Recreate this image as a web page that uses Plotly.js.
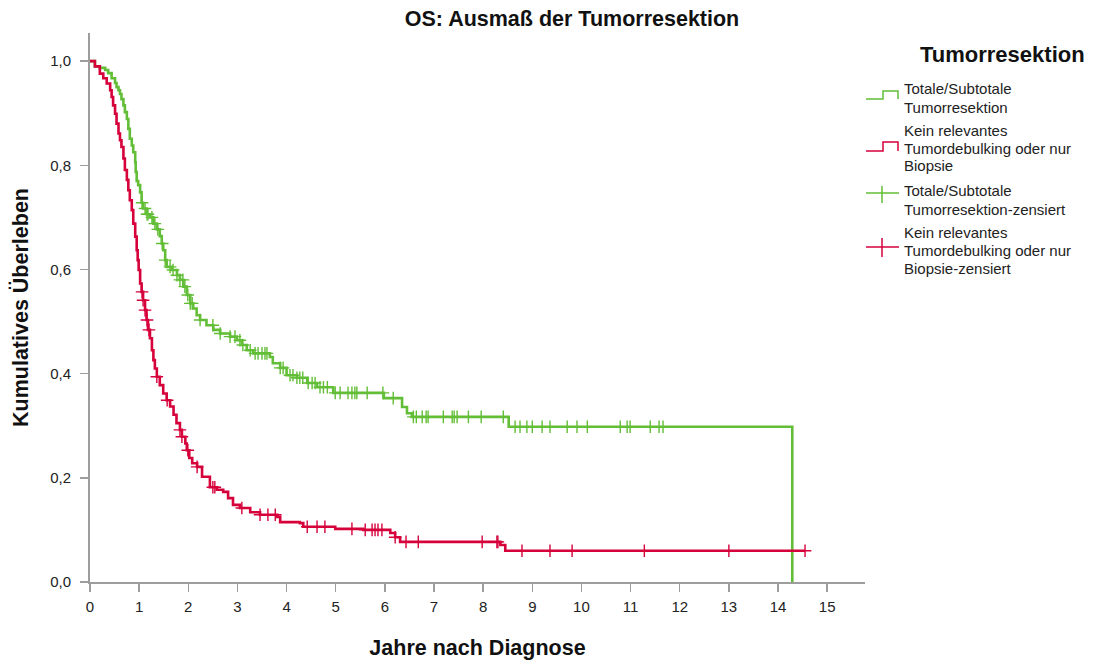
<!DOCTYPE html>
<html>
<head>
<meta charset="utf-8">
<script src="https://cdn.plot.ly/plotly-3.0.1.min.js"></script>
<style>
  html, body { margin: 0; padding: 0; background: #fff; }
  #chart { width: 1105px; height: 660px; }
</style>
</head>
<body>
<div id="chart"></div>
<script>
// Kaplan-Meier step knots: time (years) and cumulative survival after each drop
const totalTimes = [0, 0.10, 0.20, 0.31, 0.37, 0.44, 0.51, 0.54, 0.58, 0.61, 0.64, 0.68, 0.71, 0.75, 0.78, 0.81,
  0.85, 0.88, 0.92, 0.93, 0.95, 0.98, 1.02, 1.05, 1.08, 1.15, 1.22, 1.29, 1.36, 1.42, 1.46, 1.49, 1.53, 1.56,
  1.66, 1.77, 1.83, 1.90, 1.97, 2.04, 2.10, 2.17, 2.24, 2.37, 2.51, 2.65, 2.85, 2.99, 3.09, 3.19, 3.32, 3.66,
  3.72, 3.87, 4.00, 4.21, 4.42, 4.62, 4.95, 5.98, 6.35, 6.45, 6.55, 8.52, 14.29];
const totalSurv = [1.0, 0.990, 0.987, 0.983, 0.977, 0.967, 0.958, 0.950, 0.944, 0.937, 0.927, 0.915, 0.902, 0.889, 0.870, 0.851,
  0.838, 0.825, 0.806, 0.787, 0.770, 0.762, 0.748, 0.728, 0.717, 0.706, 0.700, 0.688, 0.677, 0.664, 0.650, 0.637, 0.618, 0.605,
  0.599, 0.589, 0.580, 0.567, 0.551, 0.535, 0.525, 0.512, 0.503, 0.493, 0.484, 0.477, 0.471, 0.464, 0.455, 0.445, 0.439, 0.432,
  0.420, 0.411, 0.397, 0.392, 0.382, 0.374, 0.363, 0.353, 0.336, 0.324, 0.317, 0.298, 0.0];
// censored observations (years)
const totalCensored = [1.06, 1.12, 1.16, 1.18, 1.26, 1.32, 1.38, 1.47, 1.53, 1.63, 1.69, 1.77, 1.83, 1.89, 1.93, 1.99,
  2.04, 2.08, 2.24, 2.50, 2.65, 2.85, 2.95, 3.05, 3.11, 3.26, 3.36, 3.42, 3.50, 3.56, 3.60, 3.87, 3.93, 4.07, 4.13,
  4.21, 4.27, 4.33, 4.44, 4.52, 4.58, 4.68, 4.75, 4.83, 4.99, 5.09, 5.25, 5.33, 5.39, 5.43, 5.64, 5.96, 6.17,
  6.58, 6.64, 6.76, 6.84, 6.88, 7.19, 7.37, 7.41, 7.47, 7.70, 7.96, 8.41,
  8.65, 8.75, 8.89, 9.00, 9.20, 9.36, 9.71, 9.91, 10.12, 10.79, 10.93, 10.99, 11.40, 11.58, 11.66];

const biopsyTimes = [0, 0.10, 0.20, 0.27, 0.34, 0.41, 0.44, 0.47, 0.51, 0.54, 0.58, 0.61, 0.64, 0.68, 0.71, 0.75,
  0.78, 0.81, 0.85, 0.88, 0.92, 0.95, 0.97, 0.99, 1.02, 1.05, 1.08, 1.12, 1.15, 1.18, 1.22, 1.26, 1.29, 1.32,
  1.36, 1.42, 1.49, 1.56, 1.63, 1.70, 1.76, 1.83, 1.87, 1.94, 1.97, 2.02, 2.08, 2.18, 2.28, 2.44, 2.58, 2.71,
  2.81, 2.91, 3.05, 3.26, 3.46, 3.81, 3.87, 4.27, 4.34, 4.99, 5.56, 6.11, 6.21, 6.31, 8.35, 8.45];
const biopsySurv = [1.0, 0.990, 0.976, 0.967, 0.957, 0.944, 0.931, 0.915, 0.899, 0.880, 0.861, 0.848, 0.835, 0.813, 0.791, 0.772,
  0.752, 0.733, 0.714, 0.688, 0.663, 0.637, 0.618, 0.599, 0.573, 0.557, 0.541, 0.522, 0.503, 0.484, 0.468, 0.445, 0.426, 0.410,
  0.394, 0.378, 0.362, 0.349, 0.337, 0.321, 0.305, 0.292, 0.279, 0.266, 0.253, 0.238, 0.228, 0.221, 0.202, 0.182, 0.177, 0.173,
  0.161, 0.148, 0.142, 0.134, 0.129, 0.125, 0.115, 0.113, 0.106, 0.102, 0.100, 0.094, 0.086, 0.077, 0.071, 0.060];
const biopsyLastFollowUp = 14.55;
const biopsyCensored = [1.06, 1.08, 1.12, 1.16, 1.20, 1.36, 1.57, 1.83, 1.87, 1.99, 2.18, 2.50, 2.54, 3.09, 3.46, 3.62, 3.77,
  4.42, 4.62, 4.78, 5.33, 5.60, 5.74, 5.80, 5.86, 5.94, 6.21, 6.43, 6.68, 7.98, 8.28, 8.30,
  8.79, 9.36, 9.81, 11.28, 13.0, 14.55];

const xTickVals = [0, 1, 2, 3, 4, 5, 6, 7, 8, 9, 10, 11, 12, 13, 14, 15];
const xTickText = ['0', '1', '2', '3', '4', '5', '6', '7', '8', '9', '10', '11', '12', '13', '14', '15'];
const yTickVals = [0, 0.2, 0.4, 0.6, 0.8, 1.0];
const yTickText = ['0,0', '0,2', '0,4', '0,6', '0,8', '1,0'];

const groupNames = ['Totale/Subtotale Tumorresektion', 'Kein relevantes Tumordebulking oder nur Biopsie'];
const legendLines = [
  ['Totale/Subtotale', 'Tumorresektion'],
  ['Kein relevantes', 'Tumordebulking oder nur', 'Biopsie'],
  ['Totale/Subtotale', 'Tumorresektion-zensiert'],
  ['Kein relevantes', 'Tumordebulking oder nur', 'Biopsie-zensiert']
];

const GREEN = '#62be37';
const RED = '#d6003b';
const AXIS = '#9d9d9d';

// survival value of a step function at time t
function survAt(times, surv, t) {
  let s = surv[0];
  for (let i = 0; i < times.length; i++) { if (times[i] <= t) s = surv[i]; }
  return s;
}

const biopsyX = biopsyTimes.concat([biopsyLastFollowUp]);
const biopsyY = biopsySurv.concat([biopsySurv[biopsySurv.length - 1]]);

const censorMarker = c => ({ symbol: 'cross-thin', size: 9, color: c, line: { color: c, width: 1.4 } });

const traces = [
  { x: totalTimes, y: totalSurv, name: groupNames[0], mode: 'lines', line: { color: GREEN, width: 2.6, shape: 'hv' }, showlegend: false },
  { x: biopsyX, y: biopsyY, name: groupNames[1], mode: 'lines', line: { color: RED, width: 2.6, shape: 'hv' }, showlegend: false },
  { x: totalCensored, y: totalCensored.map(t => survAt(totalTimes, totalSurv, t)), name: groupNames[0] + '-zensiert',
    mode: 'markers', marker: censorMarker(GREEN), showlegend: false },
  { x: biopsyCensored, y: biopsyCensored.map(t => survAt(biopsyTimes, biopsySurv, t)), name: groupNames[1] + '-zensiert',
    mode: 'markers', marker: censorMarker(RED), showlegend: false }
];

// plot area in pixels, used to place the hand-drawn legend
const W = 1105, H = 660;
const M = { l: 90, r: 240, t: 33, b: 78 };
const pw = W - M.l - M.r, ph = H - M.t - M.b;
const px = v => (v - M.l) / pw;
const py = v => (H - M.b - v) / ph;

const legendColors = [GREEN, RED, GREEN, RED];
const legendFirstLine = [89, 130, 191, 232];
const lineGap = 18;
const shapes = [];
const annotations = [];

// step icons for the survival curves
[[99, 91], [151, 142]].forEach(([lo, hi], i) => {
  shapes.push({ type: 'path', xref: 'paper', yref: 'paper',
    path: `M${px(866)},${py(lo)} L${px(883)},${py(lo)} L${px(883)},${py(hi)} L${px(898)},${py(hi)} L${px(898)},${py(lo)}`,
    line: { color: legendColors[i], width: 1.5 } });
});
// cross icons for censored cases
[[193, 186, 203], [247, 238, 257]].forEach(([mid, top, bot], i) => {
  const c = legendColors[i + 2];
  shapes.push({ type: 'line', xref: 'paper', yref: 'paper', x0: px(866), x1: px(899), y0: py(mid), y1: py(mid), line: { color: c, width: 1.5 } });
  shapes.push({ type: 'line', xref: 'paper', yref: 'paper', x0: px(882), x1: px(882), y0: py(top), y1: py(bot), line: { color: c, width: 1.5 } });
});

annotations.push({ text: '<b>Tumorresektion</b>', xref: 'paper', yref: 'paper', x: px(1002), y: py(54),
  xanchor: 'center', yanchor: 'middle', showarrow: false, font: { size: 22, color: '#111' } });
legendLines.forEach((lines, i) => {
  lines.forEach((txt, j) => {
    annotations.push({ text: txt, xref: 'paper', yref: 'paper', x: px(902), y: py(legendFirstLine[i] + j * lineGap),
      xanchor: 'left', yanchor: 'middle', showarrow: false, font: { size: 15, color: '#222' } });
  });
});

const layout = {
  width: W, height: H,
  margin: M,
  paper_bgcolor: '#fff', plot_bgcolor: '#fff',
  font: { family: '"Liberation Sans", Arial, sans-serif', color: '#222' },
  title: { text: '<b>OS: Ausmaß der Tumorresektion</b>', x: 572 / W, xanchor: 'center', y: 1 - 18 / H, yanchor: 'middle',
    font: { size: 21.5, color: '#111' } },
  xaxis: {
    range: [0, 15.77], tickvals: xTickVals, ticktext: xTickText,
    showgrid: false, zeroline: false, showline: true, linecolor: AXIS, linewidth: 2,
    ticks: 'outside', ticklen: 8, tickwidth: 1.5, tickcolor: AXIS,
    tickfont: { size: 15, color: '#222' }, ticklabelstandoff: 2,
    title: { text: '<b>Jahre nach Diagnose</b>', font: { size: 21.5, color: '#111' }, standoff: 26 },
    fixedrange: true
  },
  yaxis: {
    range: [0, 1.054], tickvals: yTickVals, ticktext: yTickText,
    showgrid: false, zeroline: false, showline: true, linecolor: AXIS, linewidth: 2,
    ticks: 'outside', ticklen: 8, tickwidth: 1.5, tickcolor: AXIS,
    tickfont: { size: 15, color: '#222' }, ticklabelstandoff: 6,
    title: { text: '<b>Kumulatives Überleben</b>', font: { size: 21.5, color: '#111' }, standoff: 16 },
    fixedrange: true
  },
  shapes: shapes,
  annotations: annotations,
  showlegend: false
};

Plotly.newPlot('chart', traces, layout, { displayModeBar: false, staticPlot: true });
</script>
</body>
</html>
